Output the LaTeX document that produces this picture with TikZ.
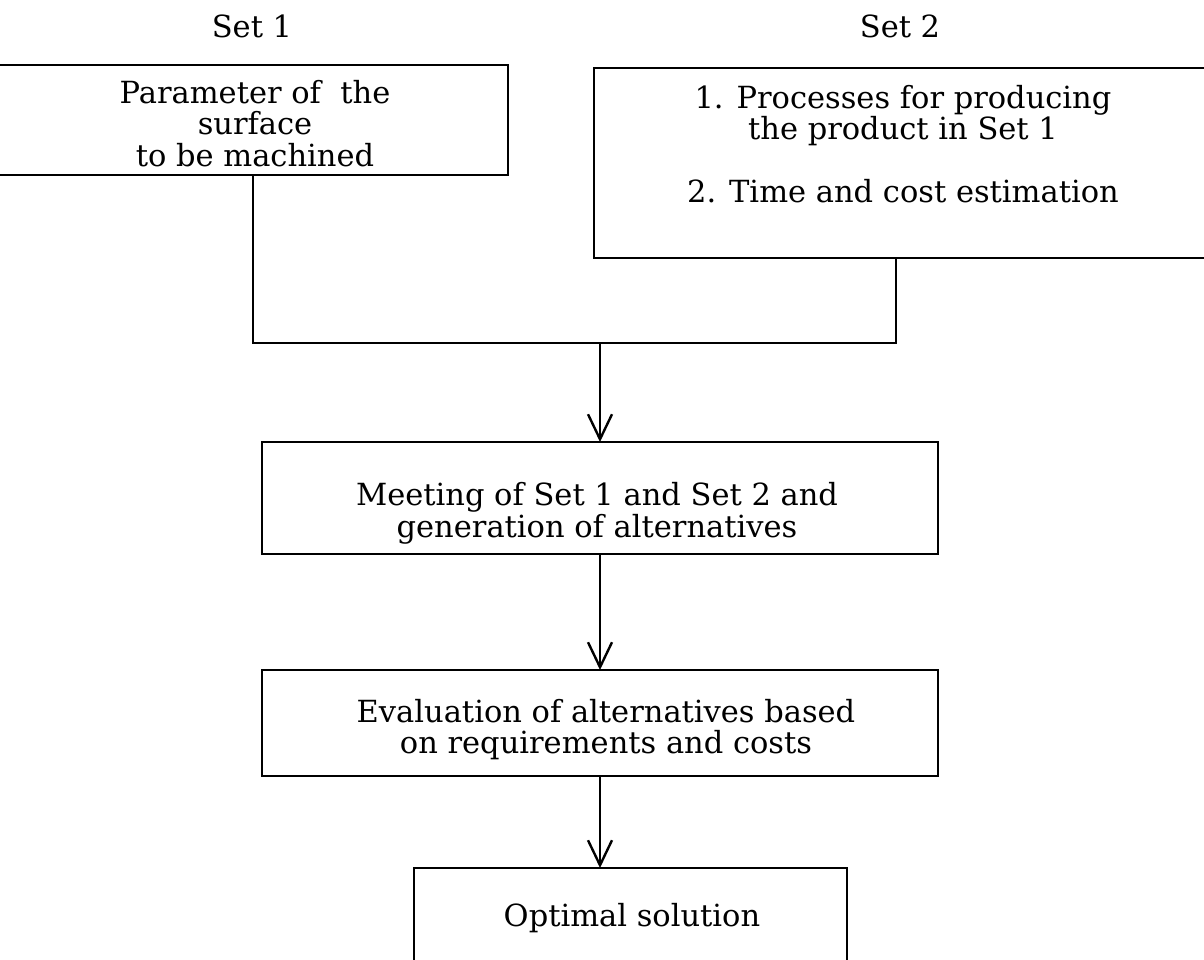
\documentclass[tikz,border=0pt]{standalone}
\usepackage{fontspec}
\setmainfont{DejaVu Serif}
\usetikzlibrary{arrows.meta}
\begin{document}
\begin{tikzpicture}[x=1pt,y=-1pt,
  frame/.style={draw=black,line width=2.4pt},
  label/.style={font=\fontsize{30.5}{31.5}\selectfont,align=center,inner sep=0pt},
  wire/.style={draw=black,line width=2.4pt},
  flow/.style={wire,-{Straight Barb[length=25pt,width=24pt,line width=2.4pt]}}]
\useasboundingbox (0,0) rectangle (1204,959);
\fill[white] (0,0) rectangle (1204,959);

% set headings
\node[label] (s1) at (252,26.5) {Set 1};
\node[label] (s2) at (900,26.5) {Set 2};

% first input: its left side lies past the margin
\draw[frame] (-10,65) -- (508,65) -- (508,175) -- (-10,175);
\node[label] (b1) at (255,123.5) {Parameter of\ \ the\\surface\\to be machined};
\coordinate (b1s) at (253,175);

% second input: its right side lies past the margin
\draw[frame] (1215,68) -- (594,68) -- (594,258) -- (1215,258);
\node[label] (b2) at (903,144) {1. Processes for producing\\the product in Set 1\\[31pt]2. Time and cost estimation};
\coordinate (b2s) at (896,258);

% joining line
\coordinate (j1) at (253,343);
\coordinate (j2) at (896,343);
\coordinate (jm) at (600,343);
\draw[wire] (b1s) -- (j1) -- (j2) -- (b2s);

% process boxes
\draw[frame] (262,442) rectangle (938,554);
\node[label] (b3) at (597,513.5) {Meeting of Set 1 and Set 2 and\\generation of alternatives};
\coordinate (b3n) at (600,442);
\coordinate (b3s) at (600,554);

\draw[frame] (262,670) rectangle (938,776);
\node[label] (b4) at (606,729.5) {Evaluation of alternatives based\\on requirements and costs};
\coordinate (b4n) at (600,670);
\coordinate (b4s) at (600,776);

\draw[frame] (414,868) rectangle (847,962);
\node[label] (b5) at (632,918.5) {Optimal solution};
\coordinate (b5n) at (600,868);

% arrows
\draw[flow] (jm) -- (b3n);
\draw[flow] (b3s) -- (b4n);
\draw[flow] (b4s) -- (b5n);
\end{tikzpicture}
\end{document}
